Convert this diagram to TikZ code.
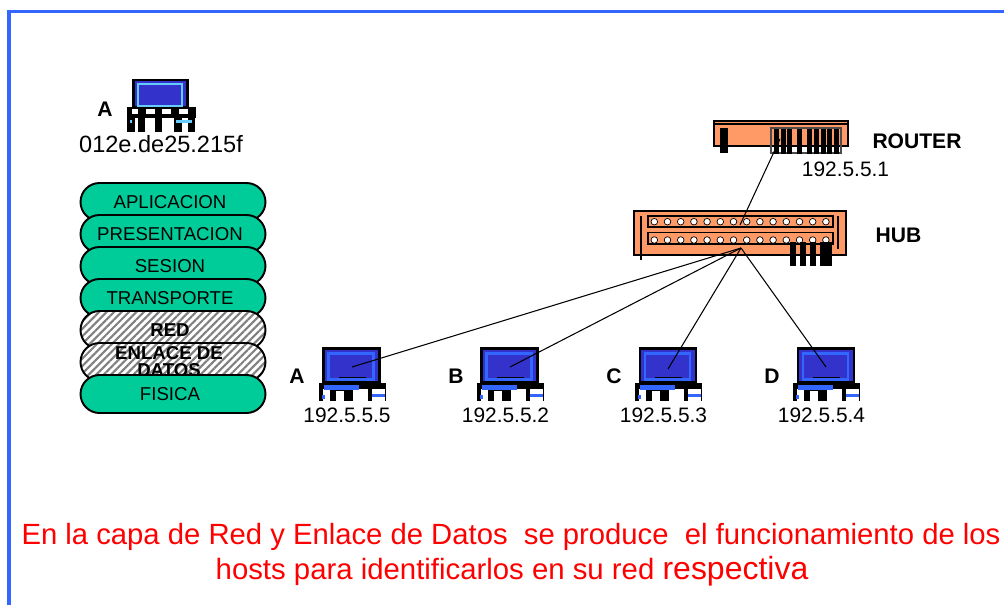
\documentclass[tikz,border=0pt]{standalone}
\usepackage{fontspec}
\setmainfont{Liberation Sans}
\usetikzlibrary{patterns.meta,shapes.misc}
\definecolor{layergreen}{HTML}{00CC99}
\definecolor{boxorange}{HTML}{FF9966}
\definecolor{screenblue}{HTML}{3333CC}
\definecolor{framblue}{HTML}{3366FF}
\definecolor{paleblue}{HTML}{66CCFF}
\begin{document}
\begin{tikzpicture}[x=0.02cm,y=-0.02cm,line width=1.1pt]

\tikzset{layer/.style={draw=black,line width=1.1pt,rounded corners=0.38cm,minimum width=3.7cm,minimum height=0.76cm,inner sep=0pt,align=center,font=\fontsize{10.6}{10.8}\selectfont,execute at end node={\hspace*{0.12cm}}},
layerplain/.style={layer,fill=layergreen},
layerhatch/.style={layer,preaction={fill=white},pattern={Lines[angle=45,distance=3pt,line width=1.2pt]},pattern color=black!50,font=\fontsize{10.6}{10.8}\selectfont\bfseries},
devicebox/.style={draw=black,line width=1.6pt,fill=boxorange,inner sep=0pt},
iplabel/.style={inner sep=0pt,font=\fontsize{11.9}{12}\selectfont},
namelabel/.style={inner sep=0pt,font=\fontsize{12}{12}\selectfont\bfseries},
wire/.style={black,line width=0.6pt},
pics/host/.style={code={
\fill [black] (-5,34) rectangle (62,52);
\fill [white] (-1,40) rectangle (6,52);
\fill [white] (12,42) rectangle (20,52);
\fill [white] (29,40) rectangle (44,52);
\fill [white] (48,40) rectangle (61,52);
\fill [framblue] (0,36) rectangle (35,41);
\fill [framblue] (48,45) rectangle (61,48);
\fill [framblue] (-2,46) rectangle (1,50);
\draw [fill=screenblue,line width=1.3pt] (0,0) rectangle (56,34);
\draw [framblue,line width=1.3pt] (5,5) rectangle (50,31);
\draw [black,line width=0.9pt] (15,29) -- (42,29);
}}}

\useasboundingbox (0,0) rectangle (1004,605);

\draw [framblue,line width=2.2pt] (9,605) -- (9,11.5) -- (1004,11.5);

%host at the top left
\fill [black] (129,107) rectangle (196,117.5);
\foreach \x in {127,137.5,154.5,174,187.5} {
\fill [black] (\x,107) rectangle (\x+7.5,132);
}
\fill [white] (132,109) rectangle (137.5,114);
\fill [white] (146,109) rectangle (154.5,114);
\fill [white] (162,109) rectangle (171,114);
\fill [white] (179,109) rectangle (187.5,114);
\fill [paleblue] (130,120) rectangle (132,123);
\fill [paleblue] (176,120) rectangle (192,122.5);
\draw [fill=screenblue,line width=1.3pt] (133.5,80) rectangle (187.5,107);
\draw [paleblue,line width=1pt] (138,84) rectangle (182,106);
\node [namelabel] (topname) at (105,109) {A};
\node [iplabel,font=\fontsize{13.4}{14}\selectfont] (topmac) at (161,144) {012e.de25.215f};

%layers
\node [layerplain] (aplicacion) at (173,202) {APLICACION};
\node [layerplain] (presentacion) at (173,234) {PRESENTACION};
\node [layerplain] (sesion) at (173,266) {SESION};
\node [layerplain] (transporte) at (173,298) {TRANSPORTE};
\node [layerhatch] (red) at (173,330) {RED};
\node [layerhatch] (enlace) at (173,362) {};
\node [font=\fontsize{10.6}{9.8}\selectfont\bfseries,align=center,inner sep=0pt] (enlacetext) at (169,361.5) {ENLACE DE\\DATOS};
\node [layerplain] (fisica) at (173,394) {FISICA};

%router
\node [devicebox,minimum width=2.68cm,minimum height=0.5cm] (router) at (781,133.5) {};
\draw [line width=0.7pt] (714,124) -- (848,124);
\fill [black] (720,128) rectangle (728,153);
\draw [black!70,line width=0.8pt] (771,128) rectangle (841,153);
\foreach \x in {774,781,787,797,807,814,821,827,834} {
\fill [black] (\x,129) rectangle (\x+4.5,154);
}
\node [namelabel] (routername) at (917,141) {ROUTER};
\node [iplabel] (routerip) at (845.5,169) {192.5.5.1};

%hub
\node [devicebox,minimum width=4.24cm,minimum height=0.88cm] (hub) at (740,233) {};
\draw [line width=0.7pt] (641,216) -- (641,260);
\draw [line width=0.7pt] (838,216) -- (838,249);
\draw [line width=0.8pt] (648,216) rectangle (833,227);
\draw [line width=0.8pt] (648,232.5) rectangle (833,244);
\foreach \i in {0,...,13} {
\draw [fill=white,line width=0.4pt] (654.3+13.2*\i,221.7) circle (3.3);
\draw [fill=white,line width=0.4pt] (654.3+13.2*\i,240) circle (3.3);
}
\fill [black] (790,242) rectangle (796,266);
\fill [black] (800,242) rectangle (806,266);
\fill [black] (810,242) rectangle (816,266);
\fill [black] (820,242) rectangle (832,266);
\node [namelabel] (hubname) at (898.5,235) {HUB};

%hosts
\pic at (323.5,348.5) {host};
\pic at (481.5,348.5) {host};
\pic at (640,348.5) {host};
\pic at (798,348.5) {host};

\node [namelabel] (nameA) at (297,376) {A};
\node [namelabel] (nameB) at (456,376) {B};
\node [namelabel] (nameC) at (614,376) {C};
\node [namelabel] (nameD) at (772,376) {D};
\node [iplabel] (ipA) at (347,415) {192.5.5.5};
\node [iplabel] (ipB) at (505.5,415) {192.5.5.2};
\node [iplabel] (ipC) at (663.5,415) {192.5.5.3};
\node [iplabel] (ipD) at (821.5,415) {192.5.5.4};

\coordinate (routerport) at (780,139);
\coordinate (hubtop) at (740,225);
\coordinate (hubport) at (741,248);
\coordinate (portA) at (352,367);
\coordinate (portB) at (510,367);
\coordinate (portC) at (668,369);
\coordinate (portD) at (826,367);

\draw [wire] (routerport) -- (hubtop);
\foreach \h in {A,B,C,D} {
\draw [wire] (hubport) -- (port\h);
}

%caption
\node [red,inner sep=0pt,font=\fontsize{16.65}{17}\selectfont] (captionone) at (511,537) {En la capa de Red y Enlace de Datos\ \ se produce\ \ el funcionamiento de los};
\node [red,inner sep=0pt,font=\fontsize{16.7}{17}\selectfont] (captiontwo) at (512,571) {hosts para identificarlos en su red {\fontsize{18.2}{18}\selectfont respectiva}};

\end{tikzpicture}
\end{document}
